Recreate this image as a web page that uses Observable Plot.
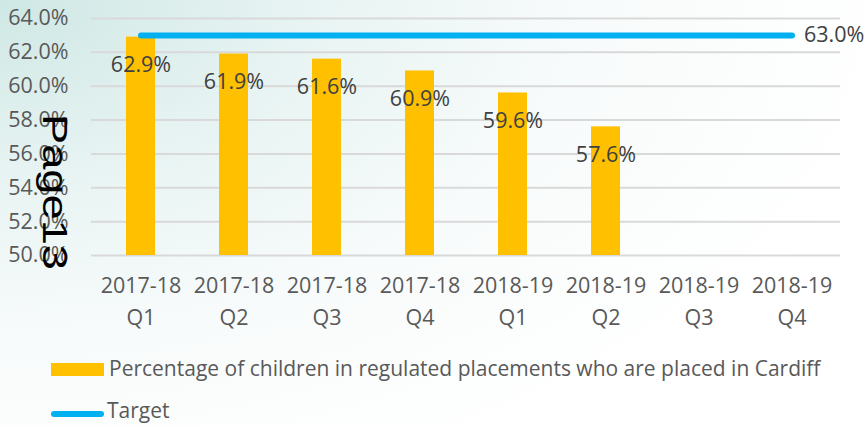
<!DOCTYPE html>
<html>
<head>
<meta charset="utf-8">
<script src="https://cdn.jsdelivr.net/npm/d3@7"></script>
<script src="https://cdn.jsdelivr.net/npm/@observablehq/plot@0.6"></script>
<style>
  html, body { margin: 0; padding: 0; }
  body {
    width: 865px; height: 425px; overflow: hidden;
    font-family: "Open Sans", sans-serif;
    background: radial-gradient(ellipse 900px 520px at 0% 0%, #cfe8e5 0%, #e8f4f3 35%, #f8fbfb 65%, #ffffff 100%);
  }
  #wrap { position: relative; width: 865px; height: 425px; }
  #chart { position: absolute; left: 0; top: 0; }
  .leg { position: absolute; font-size: 21px; color: #595959; white-space: nowrap; }
  .sw { position: absolute; }
  #page { position: absolute; left: 0; top: 0; pointer-events: none; }
</style>
</head>
<body>
<div id="wrap">
  <div id="chart"></div>
  <div class="sw" style="left:51px;top:363px;width:53px;height:13px;background:#FFC000"></div>
  <div class="leg" id="leg1" style="left:109px;top:354px;">Percentage of children in regulated placements who are placed in Cardiff</div>
  <div class="sw" style="left:51px;top:411px;width:53px;height:6px;border-radius:3px;background:#00B0F0"></div>
  <div class="leg" style="left:107px;top:396px;">Target</div>
  <svg id="page" width="865" height="425">
    <text transform="translate(43,114) rotate(90)" font-family="Liberation Sans, Arial, sans-serif" font-size="35" fill="#000" textLength="156" lengthAdjust="spacingAndGlyphs">Page13</text>
  </svg>
</div>
<script>
const categories = ["2017-18\nQ1","2017-18\nQ2","2017-18\nQ3","2017-18\nQ4","2018-19\nQ1","2018-19\nQ2","2018-19\nQ3","2018-19\nQ4"];
const barCategories = ["2017-18\nQ1","2017-18\nQ2","2017-18\nQ3","2017-18\nQ4","2018-19\nQ1","2018-19\nQ2"];
const barValues = [62.9, 61.9, 61.6, 60.9, 59.6, 57.6];
const targetValues = [63.0, 63.0, 63.0, 63.0, 63.0, 63.0, 63.0, 63.0];
const yTicks = [50, 52, 54, 56, 58, 60, 62, 64];

const bars = barCategories.map((c, i) => ({cat: c, value: barValues[i]}));
const target = categories.map((c, i) => ({cat: c, value: targetValues[i]}));
const fmt = d => d.toFixed(1) + "%";

const chart = Plot.plot({
  width: 865,
  height: 340,
  marginTop: 18,
  marginBottom: 85,
  marginLeft: 91,
  marginRight: 25,
  style: {background: "transparent", fontFamily: "Open Sans, sans-serif", color: "#595959", overflow: "visible"},
  x: {type: "band", domain: categories, paddingInner: 0.69, paddingOuter: 0.345, axis: null},
  y: {domain: [50, 64], axis: null},
  marks: [
    Plot.ruleY(yTicks, {stroke: "#d9d9d9", strokeWidth: 2}),
    Plot.axisY({ticks: yTicks, tickFormat: fmt, tickSize: 0, tickPadding: 23, fontSize: 21.5, fill: "#595959", label: null}),
    Plot.text(categories, {x: d => d, y: () => 50, text: d => d, dy: 43, lineHeight: 1.49, lineAnchor: "middle", fontSize: 21.5, fill: "#595959"}),
    Plot.barY(bars, {x: "cat", y1: () => 50, y2: "value", fill: "#FFC000"}),
    Plot.text(bars, {x: "cat", y: "value", text: d => fmt(d.value), dy: 28, fontSize: 21.5, fill: "#404040"}),
    Plot.line(target, {x: "cat", y: "value", stroke: "#00B0F0", strokeWidth: 6, strokeLinecap: "round"}),
    Plot.text(target.slice(-1), {x: "cat", y: "value", text: d => fmt(d.value), dx: 12, textAnchor: "start", fontSize: 21.5, fill: "#404040"})
  ]
});
document.getElementById("chart").appendChild(chart);
</script>
</body>
</html>
